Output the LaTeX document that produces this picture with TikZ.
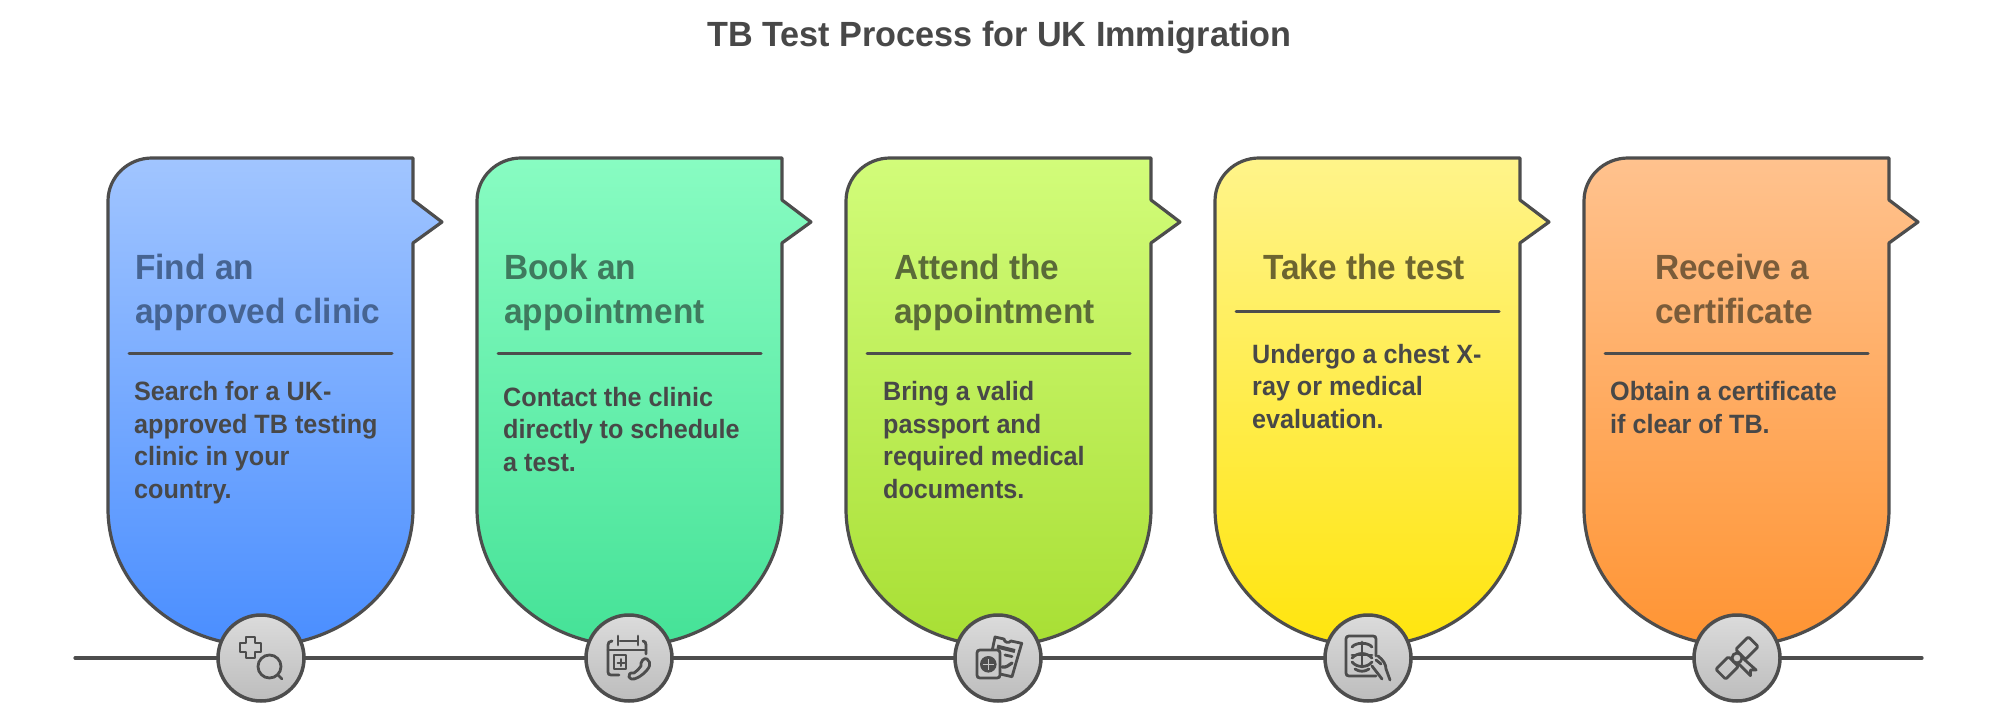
\documentclass[tikz,border=0pt]{standalone}
\usepackage{fontspec}
\setmainfont{Liberation Sans}
\newfontfamily\titlef[FakeStretch=0.977]{Liberation Sans}
\newfontfamily\headf[FakeStretch=0.955]{Liberation Sans}
\newfontfamily\bodyf[FakeStretch=0.95]{Liberation Sans}
\definecolor{ink}{HTML}{4D4D4D}
\definecolor{txt}{HTML}{484848}
\tikzset{
  cardshape/.style={draw=ink,line width=3.2pt,line join=round},
  rulebar/.style={draw=ink,line width=3pt,line cap=round},
  axisline/.style={draw=ink,line width=3.2pt,line cap=round},
  badge/.style={circle,draw=ink,line width=3.5pt,minimum size=86pt,inner sep=0pt,top color=black!14,bottom color=black!26},
  ic/.style={draw=ink,line width=2.8pt,line cap=round,line join=round},
  headtext/.style={anchor=base west,inner sep=0pt,align=left,font=\headf\fontsize{35}{43.7}\selectfont\bfseries},
  bodytext/.style={anchor=base west,inner sep=0pt,align=left,text=txt,font=\bodyf\fontsize{26.5}{32.5}\selectfont\bfseries},
  titletext/.style={anchor=base,inner sep=0pt,text=txt,font=\titlef\fontsize{35}{42}\selectfont\bfseries},
}
% #1 left offset, #2 top colour, #3 bottom colour
\newcommand{\cardpath}[3]{%
  \begin{scope}[shift={(#1,0)}]
    \path[cardshape,top color=#2,bottom color=#3]
      (152,158) -- (413,158) -- (413,200) -- (442,222) -- (413,243) -- (413,509)
      .. controls (413,585) and (344.7,646) .. (260.5,646)
      .. controls (176.3,646) and (108,585) .. (108,509)
      -- (108,201) .. controls (108,177) and (128,158) .. (152,158) -- cycle;
  \end{scope}}
\begin{document}
\begin{tikzpicture}[x=1pt,y=-1pt]
\useasboundingbox (0,0) rectangle (1999,722);
\fill[white] (0,0) rectangle (1999,722);
\node[titletext] (title) at (999.5,47) {TB Test Process for UK Immigration};

\definecolor{b1}{HTML}{A1C5FF}\definecolor{b2}{HTML}{4A8EFF}
\definecolor{g1}{HTML}{88FCC2}\definecolor{g2}{HTML}{45E297}
\definecolor{l1}{HTML}{D2FC7A}\definecolor{l2}{HTML}{A8DF34}
\definecolor{y1}{HTML}{FFF48A}\definecolor{y2}{HTML}{FFE50E}
\definecolor{o1}{HTML}{FFC28E}\definecolor{o2}{HTML}{FF9433}
\cardpath{0}{b1}{b2}
\cardpath{369}{g1}{g2}
\cardpath{738}{l1}{l2}
\cardpath{1107}{y1}{y2}
\cardpath{1476}{o1}{o2}

% rules
\coordinate (r1a) at (129,353); \coordinate (r1b) at (392,353);
\coordinate (r2a) at (498,353); \coordinate (r2b) at (761,353);
\coordinate (r3a) at (867,353); \coordinate (r3b) at (1130,353);
\coordinate (r4a) at (1236,311); \coordinate (r4b) at (1499,311);
\coordinate (r5a) at (1605,353); \coordinate (r5b) at (1868,353);
\draw[rulebar] (r1a) -- (r1b);
\draw[rulebar] (r2a) -- (r2b);
\draw[rulebar] (r3a) -- (r3b);
\draw[rulebar] (r4a) -- (r4b);
\draw[rulebar] (r5a) -- (r5b);

% texts (anchors sit on the last line's baseline)
\node[headtext,text={rgb,255:red,70;green,100;blue,146}] (h1) at (135,323) {Find an\\approved clinic};
\node[bodytext] (t1) at (134,498) {Search for a UK-\\approved TB testing\\clinic in your\\country.};
\node[headtext,text={rgb,255:red,63;green,122;blue,94}] (h2) at (504,323) {Book an\\appointment};
\node[bodytext] (t2) at (503,471) {Contact the clinic\\directly to schedule\\a test.};
\node[headtext,text={rgb,255:red,90;green,107;blue,56}] (h3) at (894,323) {Attend the\\appointment};
\node[bodytext] (t3) at (883,498) {Bring a valid\\passport and\\required medical\\documents.};
\node[headtext,text={rgb,255:red,109;green,101;blue,48}] (h4) at (1263,279) {Take the test};
\node[bodytext] (t4) at (1252,428) {Undergo a chest X-\\ray or medical\\evaluation.};
\node[headtext,text={rgb,255:red,122;green,92;blue,58}] (h5) at (1655,323) {Receive a\\certificate};
\node[bodytext] (t5) at (1610,433) {Obtain a certificate\\if clear of TB.};

% axis
\coordinate (axL) at (75,658);
\coordinate (axR) at (1922,658);
\draw[axisline] (axL) -- (axR);

% badges
\node[badge] (c1) at (261,658) {};
\node[badge] (c2) at (629,658) {};
\node[badge] (c3) at (998,658) {};
\node[badge] (c4) at (1368,658) {};
\node[badge] (c5) at (1737,658) {};

% icon 1: plus and magnifier
\begin{scope}[shift={(c1.center)}]
  \draw[ic] (-15,-21) -- (-6,-21) -- (-6,-15) -- (0,-15) -- (0,-6) -- (-6,-6) -- (-6,0) -- (-15,0) -- (-15,-6) -- (-21,-6) -- (-21,-15) -- (-15,-15) -- cycle;
  \draw[ic] (8.5,8.5) circle (11.5);
  \draw[ic] (17,17) -- (21,21);
\end{scope}

% icon 2: calendar and phone
\begin{scope}[shift={(c2.center)}]
  \draw[ic] (-10,17) -- (-18,17) .. controls (-20,17) and (-21,16) .. (-21,14) -- (-21,-13) .. controls (-21,-15) and (-20,-17) .. (-17,-17);
  \draw[ic] (-9,-17) -- (8,-17);
  \draw[ic] (14,-17) .. controls (16,-17) and (17,-15) .. (17,-13) -- (17,-4);
  \draw[ic] (-11,-22) -- (-11,-13);
  \draw[ic] (9,-22) -- (9,-13);
  \draw[ic] (-21,-8) -- (17,-8);
  \draw[ic] (-15,-3) -- (-3,-3) -- (-3,11) -- (-15,11) -- cycle;
  \draw[ic,line width=2pt] (-8,1) -- (-8,8) (-11.5,4.5) -- (-4.5,4.5);
  \draw[ic] (18,1) .. controls (23,5) and (21,10) .. (14,16) .. controls (8,21) and (2,23) .. (0,19) .. controls (-1,17) and (1,14) .. (5,15) .. controls (8,13) and (10,11) .. (12,8) .. controls (11,4) and (15,-1) .. (18,1) -- cycle;
\end{scope}

% icon 3: passport and ticket
\begin{scope}[shift={(c3.center)}]
  \draw[ic] (-5.5,-9) -- (-3,-21) -- (6,-19) .. controls (6,-15.5) and (11,-14.5) .. (13,-17) -- (23.7,-14.7) -- (14,18.7) -- (2,16);
  \draw[ic,line width=4pt,line cap=butt] (-1,-11.5) -- (17,-7);
  \draw[ic] (7,-3) -- (14,-1.5);
  \draw[ic,line width=3.2pt] (4,9) .. controls (8,10) and (11,7) .. (14,5);
  \draw[ic,fill=black!21] (-18,-8) -- (-1,-8) .. controls (1,-8) and (2,-7) .. (2,-5) -- (2,17) .. controls (2,19) and (1,20) .. (-1,20) -- (-18,20) .. controls (-20,20) and (-21,19) .. (-21,17) -- (-21,-5) .. controls (-21,-7) and (-20,-8) .. (-18,-8) -- cycle;
  \fill[ink] (-9.7,6.3) circle (8.3);
  \draw[black!22,line width=1.3pt] (-15.5,6.3) -- (-4,6.3) (-9.7,0.8) -- (-9.7,11.8);
\end{scope}

% icon 4: x-ray sheet and hand
\begin{scope}[shift={(c4.center)}]
  \draw[ic] (8,-2) -- (8,-19) .. controls (8,-21) and (7,-22) .. (5,-22) -- (-19,-22) .. controls (-21,-22) and (-22,-21) .. (-22,-19) -- (-22,15) .. controls (-22,17) and (-21,18) .. (-19,18) -- (8,18);
  \draw[ic] (-6,-16) -- (-6,9);
  \draw[ic] (-16,-11) .. controls (-12,-16) and (0,-16) .. (4,-11);
  \draw[ic] (-16,-3) -- (4,-3);
  \draw[ic] (-16,0) .. controls (-10,-6) and (-2,-6) .. (4,0);
  \draw[ic] (-16,4) .. controls (-11,10) and (-1,10) .. (4,4);
  \draw[ic] (-13,11) .. controls (-9,14) and (-3,14) .. (1,11);
  \draw[ic] (4,8) -- (14,21);
  \draw[ic] (10,-2) .. controls (15,2) and (18,6) .. (18,11) -- (22,22);
  \draw[ic] (8,2) -- (13,6);
\end{scope}

% icon 5: diploma
\begin{scope}[shift={(c5.center)}]
  \begin{scope}[rotate=45]
    \draw[ic,rounded corners=1.5pt] (-23,-7) -- (-5,-7) -- (-5,7) -- (-23,7) -- cycle;
    \draw[ic,rounded corners=1.5pt] (5,-7) -- (23,-7) -- (23,7) -- (5,7) -- cycle;
    \draw[ic] (-3,5) -- (-3,22) -- (1,18) -- (5,22) -- (4,5);
    \draw[ic,fill=black!20] (0,0) circle (5);
  \end{scope}
\end{scope}
\end{tikzpicture}
\end{document}
